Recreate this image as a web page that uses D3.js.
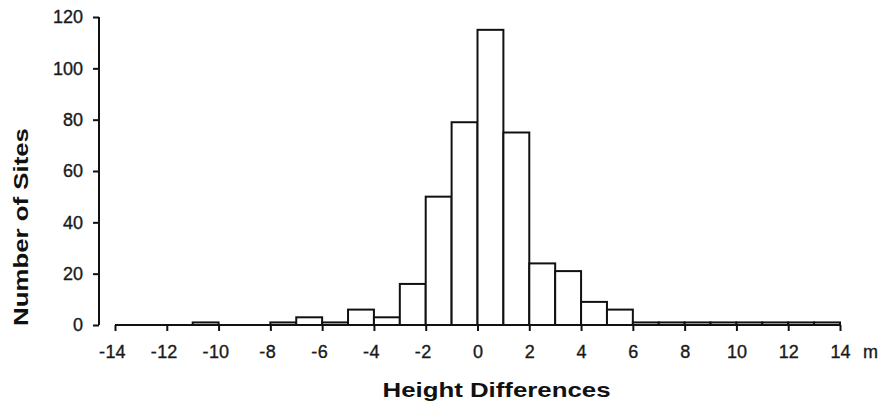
<!doctype html>
<html lang="en">
<head>
<meta charset="utf-8">
<title>Height differences histogram</title>
<script src="https://cdn.jsdelivr.net/npm/d3@7"></script>
<style>
  body { margin: 0; background: #fff; }
  svg { display: block; font-family: "Liberation Sans", Arial, sans-serif; }
  .lbl { font-size: 18px; fill: #1a1a1a; stroke: #1a1a1a; stroke-width: 0.35px; }
  .title { font-size: 21px; font-weight: 700; fill: #111; }
</style>
</head>
<body>
<svg id="chart" width="885" height="406"></svg>
<script>
// bin left edges (m) and counts, 1 m bins
const binStarts = d3.range(-14, 14);
const counts = [0, 0, 0, 1, 0, 0, 1, 3, 1, 6, 3, 16, 50, 79, 115, 75, 24, 21, 9, 6, 1, 1, 1, 1, 1, 1, 1, 1];
const xTicks = [-14, -12, -10, -8, -6, -4, -2, 0, 2, 4, 6, 8, 10, 12, 14];
const yTicks = [0, 20, 40, 60, 80, 100, 120];

const svg = d3.select("#chart");
const x = d3.scaleLinear().domain([-14, 14]).range([115, 840]);
const y = d3.scaleLinear().domain([0, 120]).range([325, 17]);

const bins = binStarts.map((s, i) => ({ x0: s, x1: s + 1, n: counts[i] }));

svg.append("g").selectAll("rect").data(bins).join("rect")
  .attr("x", (d) => x(d.x0))
  .attr("y", (d) => y(d.n))
  .attr("width", (d) => x(d.x1) - x(d.x0))
  .attr("height", (d) => y(0) - y(d.n))
  .attr("fill", "#fff")
  .attr("stroke", "#111")
  .attr("stroke-width", 2);

// x axis: digits centred on the tick, minus sign hangs to the left
const xAxis = svg.append("g")
  .attr("transform", `translate(0,${y(0)})`)
  .call(d3.axisBottom(x).tickValues(xTicks).tickSize(6).tickFormat(""));
xAxis.select(".domain").attr("stroke", "#111").attr("stroke-width", 2).attr("d", `M${x(-14)},0H${x(14)}`);
xAxis.selectAll(".tick line").attr("stroke", "#111").attr("stroke-width", 2);
xAxis.selectAll(".tick").each(function (d) {
  const t = d3.select(this);
  const num = t.append("text").attr("class", "lbl").attr("y", 33)
    .attr("text-anchor", "middle").text(Math.abs(d));
  if (d < 0) {
    const w = num.node().getComputedTextLength();
    t.append("text").attr("class", "lbl").attr("y", 33)
      .attr("x", -w / 2 - 0.5).attr("text-anchor", "end").text("-");
  }
});

svg.append("text")
  .attr("class", "lbl")
  .attr("x", 863)
  .attr("y", y(0) + 33)
  .text("m");

// y axis
const yAxis = svg.append("g")
  .attr("transform", "translate(99,0)")
  .call(d3.axisLeft(y).tickValues(yTicks).tickSize(6).tickPadding(10));
yAxis.select(".domain").attr("stroke", "#111").attr("stroke-width", 2).attr("d", `M0,${y(120)}V${y(0)}`);
yAxis.selectAll(".tick line").attr("stroke", "#111").attr("stroke-width", 2);
yAxis.selectAll(".tick text").attr("class", "lbl").attr("font-size", null);

svg.append("text")
  .attr("class", "title")
  .attr("text-anchor", "middle")
  .attr("transform", "translate(27.5,227) rotate(-90) scale(1.23,1)")
  .text("Number of Sites");

svg.append("text")
  .attr("class", "title")
  .attr("text-anchor", "middle")
  .attr("transform", "translate(496.5,397) scale(1.23,1)")
  .text("Height Differences");
</script>
</body>
</html>
